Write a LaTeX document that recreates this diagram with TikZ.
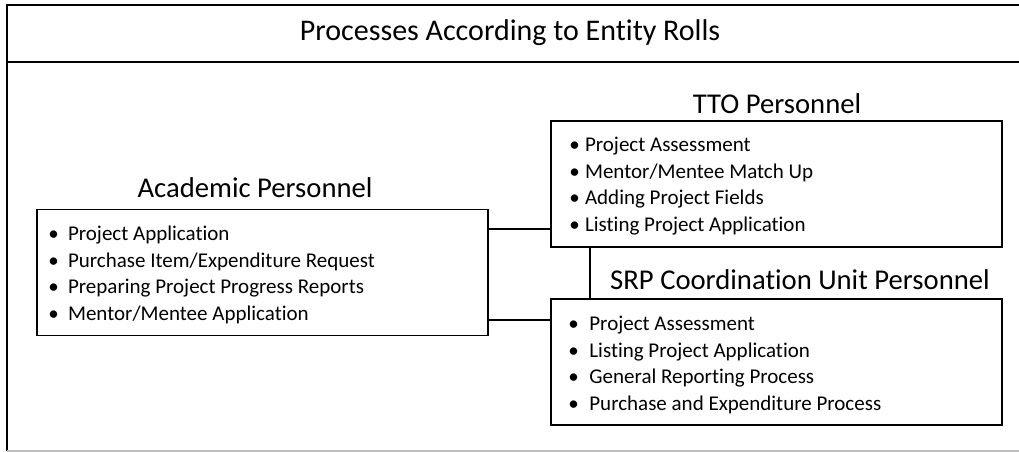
\documentclass[tikz,border=0pt]{standalone}
\usepackage{fontspec}
\setmainfont{Carlito}[Ligatures=NoCommon]
\usepackage{tikz}
\usetikzlibrary{positioning}

\tikzset{
  frameline/.style={line width=1.1pt},
  rollbox/.style={draw, line width=1.1pt, minimum width=338.25pt, minimum height=94.5pt, inner sep=0pt},
  rolltitle/.style={font=\fontsize{21.5}{26}\selectfont},
  rolllist/.style={align=left, anchor=west, inner sep=0pt, font=\fontsize{15.75}{20}\selectfont},
}
\newcommand{\itm}[2][7pt]{\textbullet\hspace{#1}#2}

\begin{document}
\begin{tikzpicture}[x=0.75pt, y=-0.75pt]
        \useasboundingbox (0,0) rectangle (1019,452);

        % outer frame
        \draw[frameline] (7,451) -- (7,5) -- (1019,5);
        \draw[frameline] (7,62) -- (1019,62);
        \draw[gray!50, line width=1pt] (7,451) -- (1019,451);
        \node[font=\fontsize{22.5}{27}\selectfont] (head) at (510,33) {Processes According to Entity Rolls};

        % role boxes
        \node[rollbox] (acad) at (262.5,272.5) {};
        \node[rollbox] (tto) at (776.5,184) {};
        \node[rollbox] (srp) at (776.5,362) {};

        \node[rolltitle] (acadtitle) at (255,188) {Academic Personnel};
        \node[rolltitle] (ttotitle) at (777,104) {TTO Personnel};
        \node[rolltitle] (srptitle) at (800,280) {SRP Coordination Unit Personnel};

        \node[rolllist] (acadlist) at (48,275) {\itm{Project Application}\\
            \itm{Purchase Item/Expenditure Request}\\
            \itm{Preparing Project Progress Reports}\\
            \itm{Mentor/Mentee Application}};
        \node[rolllist] (ttolist) at (569,186) {\itm[4pt]{Project Assessment}\\
            \itm[4pt]{Mentor/Mentee Match Up}\\
            \itm[4pt]{Adding Project Fields}\\
            \itm[4pt]{Listing Project Application}};
        \node[rolllist] (srplist) at (568,365) {\itm[8pt]{Project Assessment}\\
            \itm[8pt]{Listing Project Application}\\
            \itm[8pt]{General Reporting Process}\\
            \itm[8pt]{Purchase and Expenditure Process}};

        % connectors
        \coordinate (c1) at (acad.east |- 0,229);
        \coordinate (c2) at (acad.east |- 0,320);
        \coordinate (c3) at (tto.south -| 590,0);
        \draw[frameline] (c1) -- (tto.west |- c1);
        \draw[frameline] (c2) -- (srp.west |- c2);
        \draw[frameline] (c3) -- (srp.north -| c3);
    \end{tikzpicture}
\end{document}
